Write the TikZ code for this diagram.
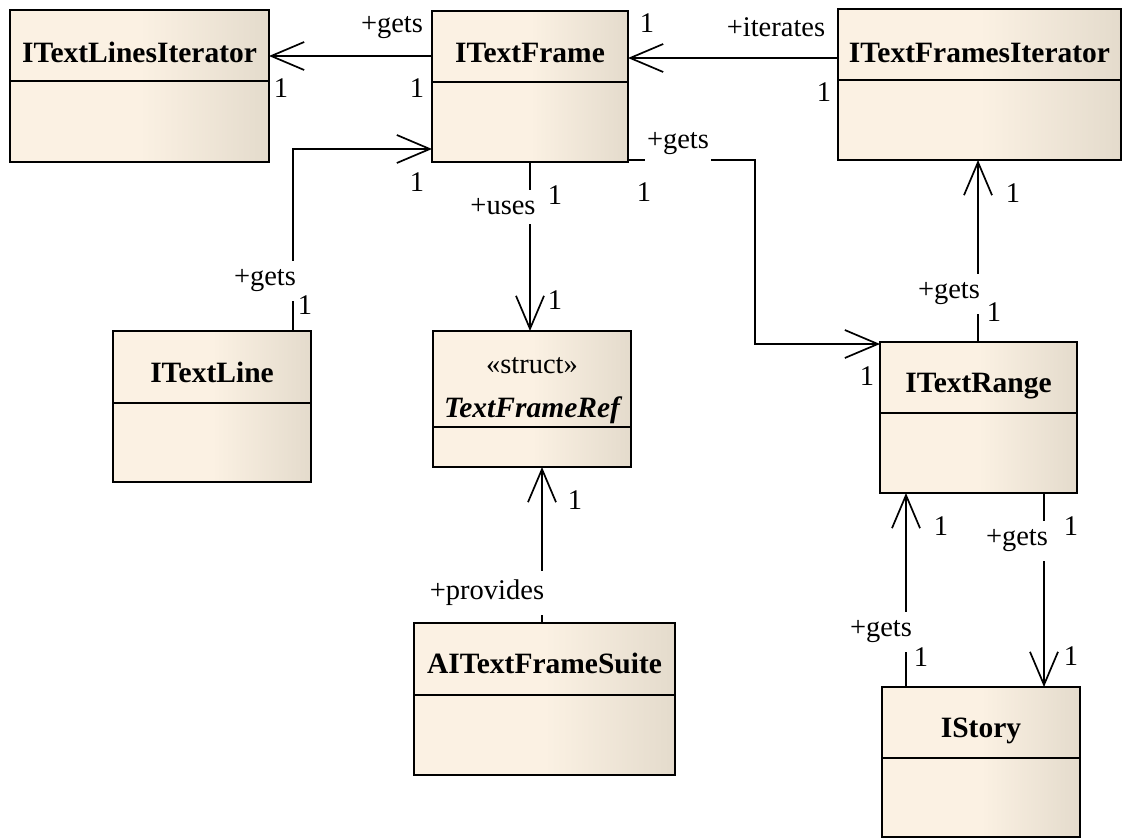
\documentclass[tikz,border=0pt]{standalone}
\usepackage{fontspec}
\setmainfont{Liberation Serif}
\usetikzlibrary{arrows.meta,calc}
\definecolor{creamA}{RGB}{251,241,227}
\definecolor{creamB}{RGB}{228,219,204}
\begin{document}
\begin{tikzpicture}[x=1pt,y=-1pt,
  font=\fontsize{28.5}{32}\selectfont,
  cls/.style={draw=black, line width=2.2pt, left color=creamA, right color=creamB, middle color=creamA,
              anchor=north west, inner sep=0pt, outer sep=0pt},
  divl/.style={line width=1.8pt},
  ttl/.style={font=\fontsize{29.5}{32}\selectfont\bfseries, anchor=base, inner sep=0pt},
  stereo/.style={anchor=base, inner sep=0pt},
  role/.style={fill=white, inner xsep=2pt, inner ysep=9pt},
  mult/.style={inner sep=0pt},
  assoc/.style={line width=1.7pt, -{Straight Barb[length=33pt,width=28pt]}}
]
\useasboundingbox (0,0) rectangle (1125,838);

% ---------- classes ----------
\node[cls, minimum width=259pt, minimum height=152pt] (tli) at (10,10) {};
\node[cls, minimum width=196pt, minimum height=151pt] (itf) at (432,11) {};
\node[cls, minimum width=283pt, minimum height=151pt] (tfi) at (838,9) {};
\node[cls, minimum width=198pt, minimum height=151pt] (itl) at (113,331) {};
\node[cls, minimum width=198pt, minimum height=136pt] (tfr) at (433,331) {};
\node[cls, minimum width=197pt, minimum height=151pt] (itr) at (880,342) {};
\node[cls, minimum width=198pt, minimum height=150pt] (ist) at (882,687) {};
\node[cls, minimum width=261pt, minimum height=152pt] (ats) at (414,623) {};

% dividers
\coordinate (d1) at (0,81);  \draw[divl] (tli.west |- d1) -- (tli.east |- d1);
\coordinate (d2) at (0,82);  \draw[divl] (itf.west |- d2) -- (itf.east |- d2);
\coordinate (d3) at (0,80);  \draw[divl] (tfi.west |- d3) -- (tfi.east |- d3);
\coordinate (d4) at (0,403); \draw[divl] (itl.west |- d4) -- (itl.east |- d4);
\coordinate (d5) at (0,427); \draw[divl] (tfr.west |- d5) -- (tfr.east |- d5);
\coordinate (d6) at (0,413); \draw[divl] (itr.west |- d6) -- (itr.east |- d6);
\coordinate (d7) at (0,758); \draw[divl] (ist.west |- d7) -- (ist.east |- d7);
\coordinate (d8) at (0,695); \draw[divl] (ats.west |- d8) -- (ats.east |- d8);

% titles
\node[ttl] (tliT) at (139.5,62) {ITextLinesIterator};
\node[ttl] (itfT) at (530,62) {ITextFrame};
\node[ttl] (tfiT) at (979.5,62) {ITextFramesIterator};
\node[ttl] (itlT) at (212,382) {ITextLine};
\node[stereo] (tfrS) at (532,373) {«struct»};
\node[ttl, font=\fontsize{29.5}{32}\selectfont\bfseries\itshape] (tfrT) at (532,417) {TextFrameRef};
\node[ttl] (itrT) at (978.5,392) {ITextRange};
\node[ttl] (istT) at (981,737) {IStory};
\node[ttl] (atsT) at (544.5,673) {AITextFrameSuite};

% ---------- connectors ----------
\coordinate (y1) at (0,56);
\draw[assoc] (itf.west |- y1) -- (tli.east |- y1);
\coordinate (y2) at (0,58);
\draw[assoc] (tfi.west |- y2) -- (itf.east |- y2);
\coordinate (y3) at (0,149); \coordinate (x3) at (293,0);
\draw[assoc] (itl.north -| x3) |- (itf.west |- y3);
\coordinate (x4) at (530,0);
\draw[assoc] (itf.south -| x4) -- (tfr.north -| x4);
\coordinate (y5) at (0,160); \coordinate (x5) at (755,0); \coordinate (y5b) at (0,344);
\draw[assoc] (itf.east |- y5) -| (x5 |- y5b) -- (itr.west |- y5b);
\coordinate (x6) at (978,0);
\draw[assoc] (itr.north -| x6) -- (tfi.south -| x6);
\coordinate (x7) at (906,0);
\draw[assoc] (ist.north -| x7) -- (itr.south -| x7);
\coordinate (x8) at (1044,0);
\draw[assoc] (itr.south -| x8) -- (ist.north -| x8);
\coordinate (x9) at (542,0);
\draw[assoc] (ats.north -| x9) -- (tfr.south -| x9);

% role labels
\node[role] (r1) at (392,28) {+gets};
\node[role] (r2) at (776,27) {+iterates};
\node[role] (r3) at (265,281) {+gets};
\node[role] (r4) at (503,207) {+uses};
\node[role] (r5) at (678,144) {+gets};
\node[role] (r6) at (949,294) {+gets};
\node[role] (r7) at (881,632) {+gets};
\node[role] (r8) at (1017,541) {+gets};
\node[role] (r9) at (487,593) {+provides};

% multiplicities
\node[mult] (m1a) at (281,88) {1};
\node[mult] (m1b) at (417,88) {1};
\node[mult] (m2a) at (647,23) {1};
\node[mult] (m2b) at (824,92) {1};
\node[mult] (m3a) at (305,305) {1};
\node[mult] (m3b) at (417,182) {1};
\node[mult] (m4a) at (555,195) {1};
\node[mult] (m4b) at (555,300) {1};
\node[mult] (m5a) at (644,192) {1};
\node[mult] (m5b) at (867,376) {1};
\node[mult] (m6a) at (994,312) {1};
\node[mult] (m6b) at (1013,193) {1};
\node[mult] (m7a) at (921,657) {1};
\node[mult] (m7b) at (941,526) {1};
\node[mult] (m8a) at (1071,526) {1};
\node[mult] (m8b) at (1071,656) {1};
\node[mult] (m9) at (575,500) {1};
\end{tikzpicture}
\end{document}
